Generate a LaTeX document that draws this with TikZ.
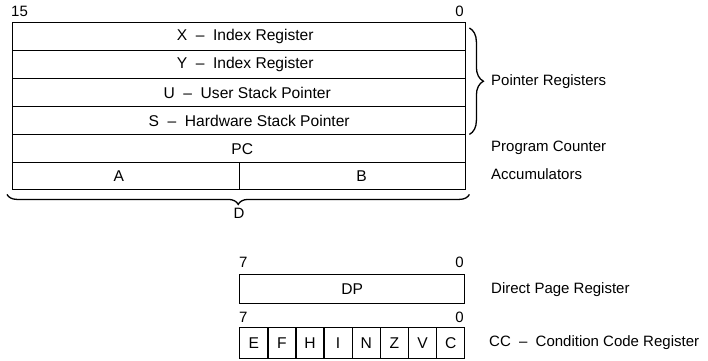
\documentclass[tikz,border=0pt]{standalone}
\usepackage{fontspec}
\setmainfont{Liberation Sans}
\usetikzlibrary{decorations.pathreplacing}
\newcommand{\regdash}{\hspace{0.55em}--\hspace{0.55em}}
\newcommand{\offs}[1]{\hspace*{#1}}
\begin{document}
\begin{tikzpicture}[x=1pt,y=1pt,
  every node/.style={font=\fontsize{15}{17}\selectfont},
  boxtext/.style={font=\fontsize{15.6}{17}\selectfont},
  reg/.style={draw, line width=1.4pt, inner sep=0pt, minimum width=453pt, minimum height=28pt, anchor=north west, boxtext},
  half/.style={reg, minimum width=226.5pt},
  bitbox/.style={draw, line width=1.4pt, inner sep=0pt, minimum width=28.125pt, minimum height=31pt, anchor=north west, boxtext},
  lbl/.style={anchor=west, inner sep=0pt},
  bitnum/.style={inner sep=0pt},
  brc/.style={decorate, line width=1.3pt}
]
\useasboundingbox (0,0) rectangle (708,360);
\fill[white] (0,0) rectangle (708,360);

% 16-bit registers
\node[reg] (X) at (12,338) {\offs{12pt}X\regdash Index Register};
\node[reg] (Y) at (12,310) {\offs{12pt}Y\regdash Index Register};
\node[reg] (U) at (12,282) {\offs{16pt}U\regdash User Stack Pointer};
\node[reg] (S) at (12,254) {\offs{20pt}S\regdash Hardware Stack Pointer};
\node[reg] (PC) at (12,226) {\offs{6pt}PC};
\node[half, minimum height=27pt] (A) at (12,198) {A\offs{14pt}};
\node[half, minimum height=27pt] (B) at (238.5,198) {\offs{18pt}B};

\node[bitnum, anchor=south west] (b15) at (11,343) {15};
\node[bitnum, anchor=south east] (b0) at (464,343) {0};

% braces
\draw[brc, decoration={brace, amplitude=14pt}] ([shift={(3,-6)}]X.north east) -- ([shift={(3,1)}]S.south east);
\draw[brc, decoration={brace, amplitude=10pt}] ([shift={(3,-4)}]B.south east) -- ([shift={(-5,-4)}]A.south west);

\node[lbl] (ptr) at (491,278) {Pointer Registers};
\node[lbl] (pcl) at (491,212) {Program Counter};
\node[lbl] (acc) at (491,186) {Accumulators};
\node (D) at (239,147) {D};

% 8-bit registers
\node[reg, minimum width=225pt, minimum height=29pt] (DP) at (239,86) {DP};
\node[bitnum, anchor=south west] (d7) at (239,92) {7};
\node[bitnum, anchor=south east] (d0) at (464,92) {0};
\node[lbl] (dpl) at (491,70) {Direct Page Register};

\node[bitnum, anchor=south west] (c7) at (239,37) {7};
\node[bitnum, anchor=south east] (c0) at (464,37) {0};
\foreach \f [count=\i from 0] in {E,F,H,I,N,Z,V,C} {
  \node[bitbox] (cc\i) at ({239+28.125*\i},33) {\f};
}
\node[lbl] (ccl) at (489,17) {CC\regdash Condition Code Register};
\end{tikzpicture}
\end{document}
